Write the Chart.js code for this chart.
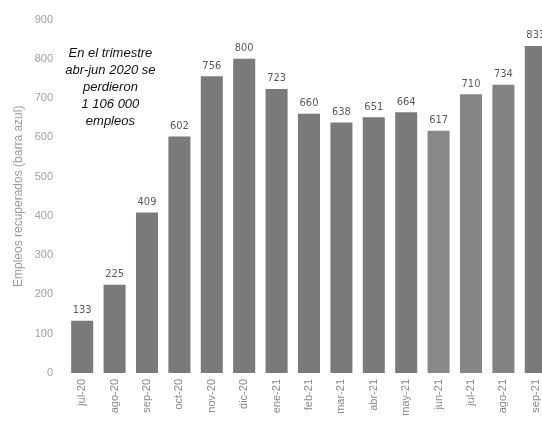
<!DOCTYPE html>
<html><head><meta charset="utf-8">
<script src="https://cdn.jsdelivr.net/npm/chart.js@4.4.1/dist/chart.umd.min.js"></script>
<style>
html,body{margin:0;padding:0;background:#fff;overflow:hidden;width:542px;height:427px;}
#wrap{position:absolute;left:0;top:0;width:556px;height:427px;}
</style></head>
<body>
<div id="wrap"><canvas id="c" width="556" height="427"></canvas></div>
<script>
const categories = ["jul-20","ago-20","sep-20","oct-20","nov-20","dic-20","ene-21","feb-21","mar-21","abr-21","may-21","jun-21","jul-21","ago-21","sep-21"];
const empleos = [133,225,409,602,756,800,723,660,638,651,664,617,710,734,833];
const barColors = ["#7a7a7a","#7a7a7a","#7a7a7a","#7a7a7a","#7a7a7a","#7a7a7a","#7a7a7a","#7a7a7a","#7a7a7a","#7a7a7a","#7a7a7a","#888888","#858585","#838383","#7a7a7a"];
const yTicks = [0,100,200,300,400,500,600,700,800,900];
const yTitle = "Empleos recuperados (barra azul)";
const noteLines = ["En el trimestre","abr-jun 2020 se","perdieron","1 106 000","empleos"];

const labelPlugin = {
  id:'labels',
  afterDatasetsDraw(chart){
    const ctx = chart.ctx;
    const meta = chart.getDatasetMeta(0);
    ctx.save();
    ctx.font = '11px "Liberation Sans Narrow", "DejaVu Sans Condensed", Arial, sans-serif';
    ctx.fillStyle = '#5a5a5a';
    ctx.textAlign = 'center';
    ctx.textBaseline = 'bottom';
    meta.data.forEach((bar,i)=>{
      ctx.fillText(String(empleos[i]), bar.x, bar.y - 5);
    });
    const xs = chart.scales.x, ys = chart.scales.y;
    const cx = (xs.getPixelForValue(0) + xs.getPixelForValue(1)) / 2 + 12;
    const y0 = ys.getPixelForValue(815);
    ctx.font = 'italic 13px "Liberation Sans", Arial, sans-serif';
    ctx.fillStyle = '#111';
    ctx.textBaseline = 'middle';
    noteLines.forEach((t,k)=>{ ctx.fillText(t, cx, y0 + k*17.2); });
    ctx.restore();
  }
};

new Chart(document.getElementById('c'), {
  type:'bar',
  data:{ labels:categories, datasets:[{ data:empleos, backgroundColor:barColors, barPercentage:0.68, categoryPercentage:1.0 }]},
  options:{
    responsive:false, animation:false,
    layout:{ padding:{ top:13, right:4, left:0, bottom:0 } },
    plugins:{ legend:{display:false}, tooltip:{enabled:false} },
    scales:{
      x:{
        grid:{display:false, drawTicks:false}, border:{display:false},
        ticks:{ color:'#8a8a8a', font:{size:11, family:'"Liberation Sans", Arial, sans-serif'}, minRotation:90, maxRotation:90, padding:6 },
        afterFit(s){ s.height = 54; }
      },
      y:{
        min:0, max:900,
        afterBuildTicks(s){ s.ticks = yTicks.map(v=>({value:v})); },
        grid:{display:false, drawTicks:false}, border:{display:false},
        ticks:{ color:'#a0a0a0', font:{size:11, family:'"Liberation Sans", Arial, sans-serif'}, padding:13 },
        title:{ display:true, text:yTitle, color:'#9a9a9a', font:{size:12, family:'"Liberation Sans", Arial, sans-serif'}, padding:{top:11,bottom:5} },
        afterFit(s){ s.width = 66; }
      }
    }
  },
  plugins:[labelPlugin]
});
</script>
</body></html>
